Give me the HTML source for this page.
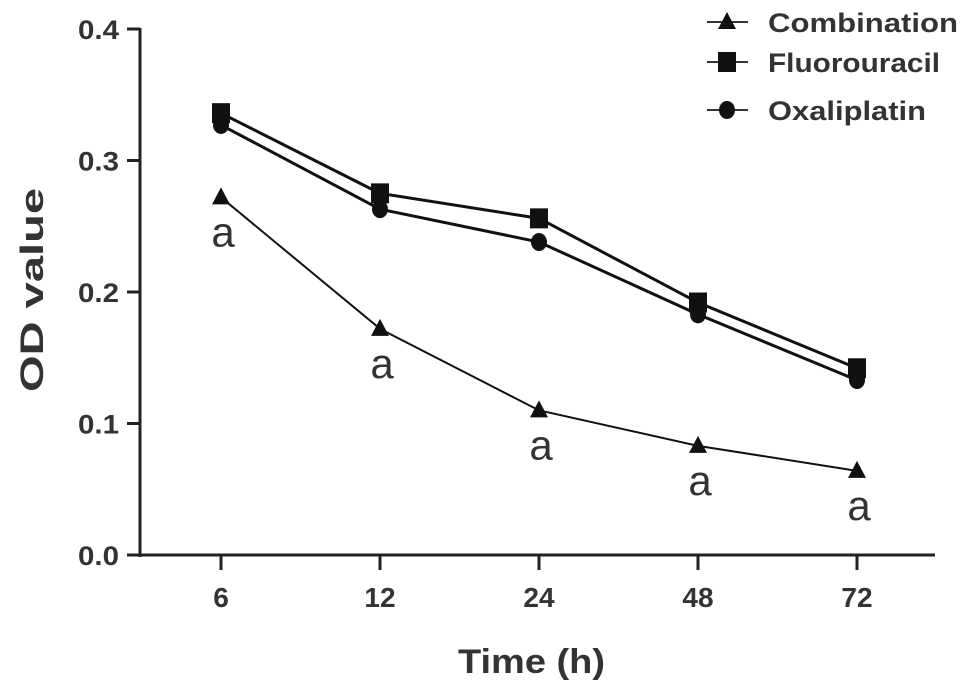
<!DOCTYPE html>
<html><head><meta charset="utf-8"><style>
body{margin:0;background:#fff;width:969px;height:692px;overflow:hidden}
text{font-family:"Liberation Sans",Arial,sans-serif}
</style></head><body>
<svg id="chart" width="969" height="692" viewBox="0 0 969 692" xmlns="http://www.w3.org/2000/svg">
<g id="axes"></g><g id="series"></g><g id="legend"></g>
<text x="458" y="673" font-size="34" font-weight="bold" fill="#333" textLength="147" lengthAdjust="spacingAndGlyphs">Time (h)</text>
<text transform="translate(43,392) rotate(-90)" font-size="32" font-weight="bold" fill="#333" textLength="204" lengthAdjust="spacingAndGlyphs">OD value</text>
</svg>
<script>
const categories=["6","12","24","48","72"];
const combination=[0.272,0.172,0.110,0.083,0.064];
const fluorouracil=[0.336,0.275,0.256,0.192,0.142];
const oxaliplatin=[0.327,0.263,0.238,0.183,0.133];
const yTicks=[0,0.1,0.2,0.3,0.4];
const yTickLabels=["0.0","0.1","0.2","0.3","0.4"];
const sigLabels=["a","a","a","a","a"];
const NS="http://www.w3.org/2000/svg";
const xPos=[221,383,540,698,857];
function xScale(i){return xPos[0]+(xPos[4]-xPos[0])*i/(categories.length-1);}
function yScale(v){return 555-v*1315;}
function mk(tag,attrs,parent){const e=document.createElementNS(NS,tag);for(const k in attrs)e.setAttribute(k,attrs[k]);parent.appendChild(e);return e;}
const axes=document.getElementById('axes');
let e=mk('line',{x1:140,y1:yScale(0.4)-1,x2:140,y2:557,stroke:'#222','stroke-width':3},axes);


e=mk('line',{x1:127,y1:555,x2:935,y2:555,stroke:'#222','stroke-width':3},axes);


yTicks.forEach((v,i)=>{
  const y=yScale(v);
  let t=mk('line',{x1:127,y1:y,x2:140,y2:y,stroke:'#222','stroke-width':3},axes);
  
  
  let l=mk('text',{x:78,y:y+10,'font-size':27,'font-weight':'bold',fill:'#333',textLength:41,lengthAdjust:'spacingAndGlyphs'},axes);
  l.textContent=yTickLabels[i];
  
  
});
categories.forEach((c,i)=>{
  const x=xScale(i);
  let t=mk('line',{x1:x,y1:555,x2:x,y2:570,stroke:'#222','stroke-width':3},axes);
  
  
  let l=mk('text',{x:x,y:607,'font-size':28,'font-weight':'bold','text-anchor':'middle',fill:'#333'},axes);
  l.textContent=c;
  
  
});
function marker(type,x,y,parent){
  let m;
  if(type==='tri') m=mk('polygon',{points:`${x},${y-10} ${x-9},${y+7} ${x+9},${y+7}`,fill:'#111'},parent);
  else if(type==='sq') m=mk('rect',{x:x-9,y:y-10,width:18,height:20,fill:'#111'},parent);
  else m=mk('ellipse',{cx:x,cy:y,rx:8,ry:9,fill:'#111'},parent);
  return m;
}
const series=document.getElementById('series');
const defs=[['oxaliplatin',oxaliplatin,'circ'],['fluorouracil',fluorouracil,'sq'],['combination',combination,'tri']];
defs.forEach(([name,vals,type])=>{
  const g=mk('g',{},series);
  
  
  const pts=vals.map((v,i)=>xScale(i)+','+yScale(v)).join(' ');
  const pl=mk('polyline',{points:pts,fill:'none',stroke:'#111','stroke-width':type==='tri'?2:3},g);
  
  
  vals.forEach((v,i)=>{
    const m=marker(type,xScale(i),yScale(v),g);
    
    
  });
});
combination.forEach((v,i)=>{
  const t=mk('text',{x:xScale(i)+2,y:yScale(v)+49,'font-size':42,'text-anchor':'middle',fill:'#333'},series);
  t.textContent=sigLabels[i];
  
  
});
const legend=document.getElementById('legend');
[['Combination','tri',22,190],['Fluorouracil','sq',62,172],['Oxaliplatin','circ',110,158]].forEach(([lab,type,y,w])=>{
  const g=mk('g',{},legend);
  
  
  mk('line',{x1:707,y1:y,x2:748,y2:y,stroke:'#333','stroke-width':2},g);
  const m=marker(type,727,y,g);
  
  
  const t=mk('text',{x:768,y:y+10,'font-size':27,'font-weight':'bold',fill:'#333',textLength:w,lengthAdjust:'spacingAndGlyphs'},g);
  t.textContent=lab;
  
  
});
</script>
</body></html>
